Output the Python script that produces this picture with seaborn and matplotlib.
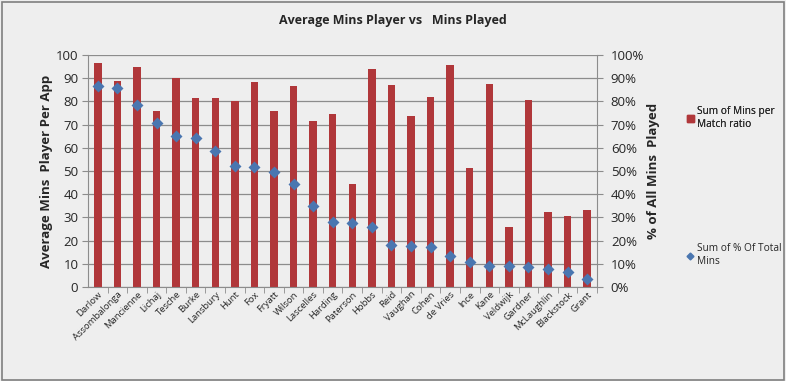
import numpy as np
import pandas as pd
import matplotlib
matplotlib.use("Agg")
import matplotlib.pyplot as plt
import seaborn as sns
from matplotlib.lines import Line2D
from matplotlib.patches import Patch, Rectangle
from matplotlib.ticker import FuncFormatter

# data
players = ["Darlow", "Assombalonga", "Mancienne", "Lichaj", "Tesche", "Burke", "Lansbury",
           "Hunt", "Fox", "Fryatt", "Wilson", "Lascelles", "Harding", "Paterson", "Hobbs",
           "Reid", "Vaughan", "Cohen", "de Vries", "Ince", "Kane", "Veldwijk", "Gardner",
           "McLaughlin", "Blackstock", "Grant"]
mins_per_match = [96.5, 89, 95, 76, 90, 81.3, 81.3, 80, 88.5, 76, 86.5, 71.5, 74.5, 44.3,
                  94, 87, 73.5, 82, 95.5, 51.5, 87.3, 26, 80.5, 32.3, 30.5, 33.3]
pct_total_mins = [86.7, 85.8, 78.5, 70.7, 65.2, 64.3, 58.7, 52.3, 51.8, 49.7, 44.5, 34.8,
                  28.2, 27.8, 26, 18, 17.6, 17.1, 13.3, 10.7, 9.1, 9.1, 8.7, 7.8, 6.4, 3.4]

df = pd.DataFrame({"player": players, "mins": mins_per_match, "pct": pct_total_mins})

bar_color = "#B0373A"
dot_color = "#4A76B0"
bg = "#EEEEEE"
grid_c = "#8C8C8C"

sns.set_style("white")
plt.rcParams["font.family"] = ["Open Sans", "DejaVu Sans"]

fig = plt.figure(figsize=(7.86, 3.81), dpi=100, facecolor=bg)
ax = fig.add_axes([0.112, 0.2467, 0.6475, 0.609])
ax.set_facecolor(bg)

sns.barplot(data=df, x="player", y="mins", color=bar_color, width=0.38,
            saturation=1, linewidth=0, ax=ax, zorder=2)
ax.set_ylim(0, 100)
ax.set_yticks(range(0, 101, 10))
ax.set_xlim(-0.5, len(players) - 0.5)
ax.yaxis.grid(True, color=grid_c, lw=0.9, zorder=0)
ax.set_axisbelow(True)
for s in ["top", "right"]:
    ax.spines[s].set_visible(False)
ax.spines["left"].set_color(grid_c)
ax.spines["bottom"].set_color(grid_c)
ax.tick_params(axis="y", length=4, color=grid_c, labelsize=9.5, pad=3, direction="out", left=True)
ax.tick_params(axis="x", length=0, labelsize=6.8, pad=2)
ax.set_xticks(np.arange(len(players)) + 0.5, minor=True)
ax.tick_params(axis="x", which="minor", length=4, color=grid_c, bottom=True, direction="out")
ax.set_xticklabels(players, rotation=45, ha="right", rotation_mode="anchor")
ax.set_xlabel("")
ax.set_ylabel("Average Mins  Player Per App", fontsize=9.5, fontweight="bold", labelpad=2)

ax2 = ax.twinx()
sns.pointplot(data=df, x="player", y="pct", linestyle="none", markers="D", color=dot_color,
              markersize=3.8, ax=ax2)
ax2.set_ylim(0, 100)
ax2.set_yticks(range(0, 101, 10))
ax2.yaxis.set_major_formatter(FuncFormatter(lambda v, p: f"{v:.0f}%"))
ax2.set_xlim(-0.5, len(players) - 0.5)
for s in ["top", "left", "bottom"]:
    ax2.spines[s].set_visible(False)
ax2.spines["right"].set_color(grid_c)
ax2.tick_params(axis="y", length=4, color=grid_c, labelsize=9.5, pad=6, direction="out", right=True)
ax2.set_ylabel("% of All Mins  Played", fontsize=9.5, fontweight="bold", labelpad=2)

fig.text(0.5, 0.947, "Average Mins Player vs   Mins Played", ha="center", va="center",
         fontsize=9, fontweight="bold")

leg1 = fig.legend(handles=[Patch(color=bar_color, label="Sum of Mins per\nMatch ratio")],
                  loc="upper left", bbox_to_anchor=(0.862, 0.745), frameon=False,
                  fontsize=7.3, handlelength=0.7, handleheight=0.7, handletextpad=0.3)
leg2 = fig.legend(handles=[Line2D([], [], marker="D", color=dot_color, lw=0, markersize=3.5,
                                  label="Sum of % Of Total\nMins")],
                  loc="upper left", bbox_to_anchor=(0.862, 0.385), frameon=False,
                  fontsize=7.3, handlelength=0.7, handletextpad=0.3)
fig.add_artist(leg1)

fig.patches.append(Rectangle((0.002, 0.003), 0.995, 0.993, transform=fig.transFigure,
                             fill=False, edgecolor="#7F7F7F", lw=1.2))

fig.savefig("out.png", dpi=100, facecolor=bg)
